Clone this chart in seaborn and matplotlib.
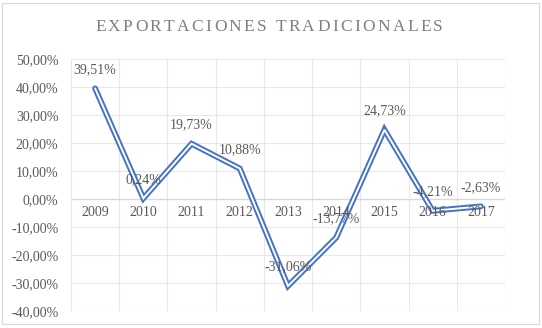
import seaborn as sns
import matplotlib.pyplot as plt
import pandas as pd
import numpy as np

# data
years = ["2009", "2010", "2011", "2012", "2013", "2014", "2015", "2016", "2017"]
values = [39.51, 0.24, 19.73, 10.88, -31.06, -13.77, 24.73, -4.21, -2.63]
labels = ["39,51%", "0,24%", "19,73%", "10,88%", "-31,06%", "-13,77%", "24,73%", "-4,21%", "-2,63%"]
y_ticks = [50, 40, 30, 20, 10, 0, -10, -20, -30, -40]
title = "EXPORTACIONES TRADICIONALES"

df = pd.DataFrame({"pos": np.arange(len(years)), "value": values})

sns.set_style("white")
plt.rcParams['font.family'] = ['Liberation Serif']

W, H = 542, 328
fig = plt.figure(figsize=(W / 100, H / 100), dpi=100)
ax = fig.add_axes([71 / W, 1 - 311 / H, (505 - 71) / W, (311 - 59) / H])

grey = "#595959"
blue = "#4472C4"

# double (compound) line like excel
sns.lineplot(data=df, x="pos", y="value", ax=ax, color=blue, linewidth=4.2,
             solid_joinstyle="miter")
sns.lineplot(data=df, x="pos", y="value", ax=ax, color="white", linewidth=1.4,
             solid_joinstyle="miter")

ax.set_xlim(-0.5, len(years) - 0.5)
ax.set_ylim(-40, 50)
ax.set_yticks(y_ticks)
ax.set_yticklabels(["{:.2f}%".format(v).replace(".", ",") for v in y_ticks],
                   fontsize=10, color=grey)
ax.set_xticks([])
ax.set_xlabel("")
ax.set_ylabel("")
ax.tick_params(axis="y", length=0, pad=9)

for y in y_ticks:
    ax.axhline(y, color="#e8e8e8", linewidth=0.8, zorder=0)
for x in np.arange(-0.5, len(years), 1):
    ax.axvline(x, color="#e8e8e8", linewidth=0.8, zorder=0)
ax.axhline(0, color="#d9d9d9", linewidth=0.9, zorder=0)

for s in ax.spines.values():
    s.set_visible(False)

# category labels sit just under the 0 line
for i, yr in enumerate(years):
    ax.text(i, -5, yr, ha="center", va="center", fontsize=10, color=grey)

for i, (v, lab) in enumerate(zip(values, labels)):
    ax.annotate(lab, (i, v), xytext=(0, 9), textcoords="offset points",
                ha="center", va="bottom", fontsize=10, color=grey)

# title with letter spacing, laid out char by char
renderer = fig.canvas.get_renderer()
widths = []
for ch in title:
    t = fig.text(0, 0, ch if ch != " " else "n", fontsize=12.5)
    w = t.get_window_extent(renderer).width
    t.remove()
    widths.append(w * (0.45 if ch == " " else 1.0))
total = 348
gap = (total - sum(widths)) / (len(title) - 1)
x = 95
for ch, w in zip(title, widths):
    if ch != " ":
        fig.text(x / W, 1 - 27 / H, ch, ha="left", va="center", fontsize=12.5, color="#7f7f7f")
    x += w + gap

# outer chart border
fig.patches.append(plt.Rectangle((2 / W, 4 / H), (W - 5) / W, (H - 7) / H, transform=fig.transFigure,
                                 fill=False, edgecolor="#d9d9d9", linewidth=0.8))

fig.savefig("out.png", dpi=100)
